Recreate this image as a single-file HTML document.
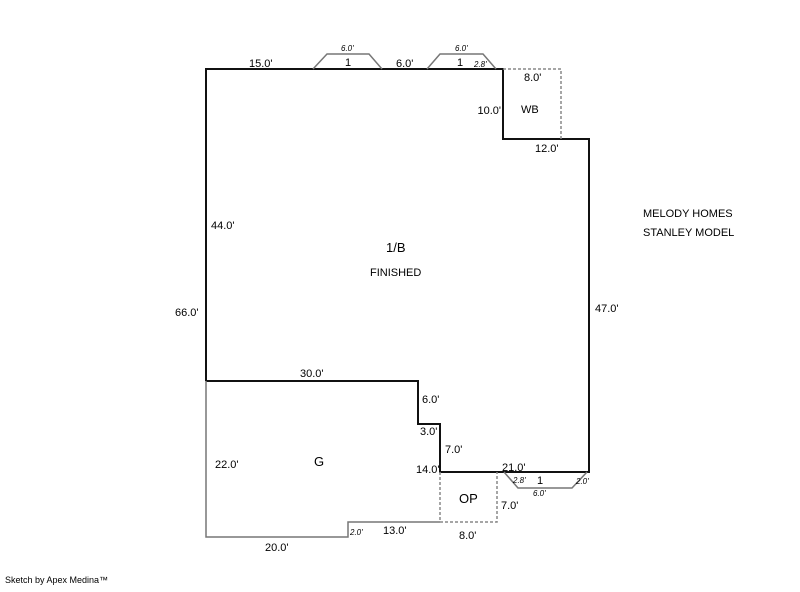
<!DOCTYPE html>
<html><head><style>html,body{margin:0;padding:0;background:#fff}</style></head>
<body>
<svg width="800" height="587" xmlns="http://www.w3.org/2000/svg" font-family="Liberation Sans, sans-serif" font-size="11" fill="#000">
<g fill="none">
<polyline points="206,381 206,69 503,69 503,139 589,139 589,472 440,472 440,424 418,424 418,381 206,381" stroke="#111" stroke-width="2"/>
<polyline points="503,69 561,69 561,139" stroke="#888" stroke-width="1.5" stroke-dasharray="3,2"/>
<polyline points="206,381 206,537 348,537 348,522 440,522" stroke="#777" stroke-width="1.5"/>
<polyline points="440,472 440,522 497,522 497,472" stroke="#888" stroke-width="1.5" stroke-dasharray="3,2"/>
<polyline points="313,69 327,54 369,54 382,69" stroke="#777" stroke-width="1.5"/>
<polyline points="427,69 440,54 483,54 496,69" stroke="#777" stroke-width="1.5"/>
<polyline points="504,472 518,488 572,488 587,472" stroke="#777" stroke-width="1.5"/>
</g>
<text x="249" y="67">15.0'</text>
<text x="341" y="51" font-size="8" font-style="italic">6.0'</text>
<text x="345" y="66">1</text>
<text x="396" y="67">6.0'</text>
<text x="455" y="51" font-size="8" font-style="italic">6.0'</text>
<text x="457" y="66">1</text>
<text x="474" y="67" font-size="8" font-style="italic">2.8'</text>
<text x="524" y="81">8.0'</text>
<text x="501" y="114" text-anchor="end">10.0'</text>
<text x="521" y="113">WB</text>
<text x="535" y="152">12.0'</text>
<text x="211" y="229">44.0'</text>
<text x="386" y="252" font-size="13">1/B</text>
<text x="370" y="276">FINISHED</text>
<text x="643" y="217">MELODY HOMES</text>
<text x="643" y="236">STANLEY MODEL</text>
<text x="175" y="316">66.0'</text>
<text x="595" y="312">47.0'</text>
<text x="300" y="377">30.0'</text>
<text x="422" y="403">6.0'</text>
<text x="420" y="435">3.0'</text>
<text x="445" y="453">7.0'</text>
<text x="215" y="468">22.0'</text>
<text x="314" y="466" font-size="13">G</text>
<text x="416" y="473">14.0'</text>
<text x="502" y="471">21.0'</text>
<text x="513" y="483" font-size="8" font-style="italic">2.8'</text>
<text x="537" y="484">1</text>
<text x="576" y="484" font-size="8" font-style="italic">2.0'</text>
<text x="533" y="496" font-size="8" font-style="italic">6.0'</text>
<text x="459" y="503" font-size="13">OP</text>
<text x="501" y="509">7.0'</text>
<text x="350" y="535" font-size="8" font-style="italic">2.0'</text>
<text x="383" y="534">13.0'</text>
<text x="265" y="551">20.0'</text>
<text x="459" y="539">8.0'</text>
<text x="5" y="583" font-size="9">Sketch by Apex Medina™</text>
</svg>
</body></html>
